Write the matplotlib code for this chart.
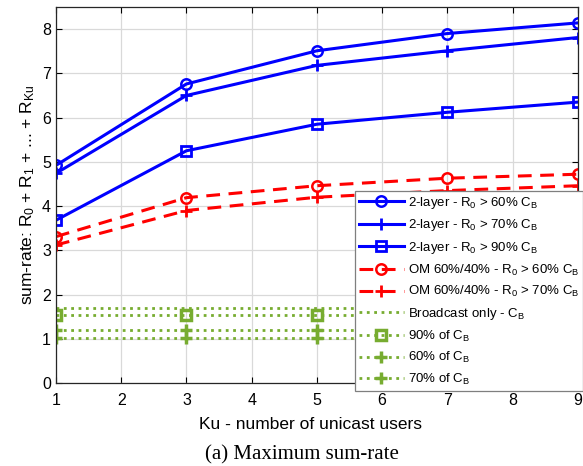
import matplotlib
matplotlib.use('Agg')
import matplotlib.pyplot as plt

plt.rcParams['font.family'] = ['Liberation Sans', 'DejaVu Sans']
plt.rcParams['mathtext.fontset'] = 'custom'
plt.rcParams['mathtext.rm'] = 'Liberation Sans'
plt.rcParams['mathtext.it'] = 'Liberation Sans:italic'

# number of unicast users
ku = [1, 3, 5, 7, 9]

# 2-layer scheme
two_layer_60 = [4.92, 6.76, 7.51, 7.90, 8.14]
two_layer_70 = [4.74, 6.50, 7.18, 7.51, 7.81]
two_layer_90 = [3.68, 5.25, 5.85, 6.12, 6.35]

# OM 60%/40%
om_60 = [3.31, 4.19, 4.46, 4.63, 4.72]
om_70 = [3.12, 3.90, 4.20, 4.35, 4.46]

# broadcast references
broadcast_only = [1.70, 1.70, 1.70, 1.70, 1.70]
cb_90 = [1.53, 1.53, 1.53, 1.53, 1.53]
cb_60 = [1.02, 1.02, 1.02, 1.02, 1.02]
cb_70 = [1.19, 1.19, 1.19, 1.19, 1.19]

BLUE = '#0000ff'
RED = '#ff0000'
GREEN = '#77ac30'


def main():
    fig = plt.figure(figsize=(5.83, 4.66), dpi=100)
    ax = fig.add_axes([0.096, 0.178, 0.895, 0.807])

    lw = 2.2
    ax.plot(ku, two_layer_60, '-o', c=BLUE, lw=lw, ms=7.5, mfc='none', mew=1.8,
            label=r'2-layer - R$_0$ > 60% C$_\mathrm{B}$')
    ax.plot(ku, two_layer_70, '-+', c=BLUE, lw=lw, ms=8, mew=2,
            label=r'2-layer - R$_0$ > 70% C$_\mathrm{B}$')
    ax.plot(ku, two_layer_90, '-s', c=BLUE, lw=lw, ms=6.5, mfc='none', mew=2,
            label=r'2-layer - R$_0$ > 90% C$_\mathrm{B}$')
    ax.plot(ku, om_60, '--o', c=RED, lw=lw, ms=7.5, mfc='none', mew=1.8, dashes=(4.5, 2.8),
            label=r'OM 60%/40% - R$_0$ > 60% C$_\mathrm{B}$')
    ax.plot(ku, om_70, '--+', c=RED, lw=lw, ms=8, mew=2, dashes=(4.5, 2.8),
            label=r'OM 60%/40% - R$_0$ > 70% C$_\mathrm{B}$')
    ax.plot(ku, broadcast_only, ':', c=GREEN, lw=2,
            label=r'Broadcast only - C$_\mathrm{B}$')
    ax.plot(ku, cb_90, ':s', c=GREEN, lw=2, ms=6.5, mfc='none', mew=2.5,
            label=r'90% of C$_\mathrm{B}$')
    ax.plot(ku, cb_60, ':+', c=GREEN, lw=2, ms=8, mew=2.5,
            label=r'60% of C$_\mathrm{B}$')
    ax.plot(ku, cb_70, ':+', c=GREEN, lw=2, ms=8, mew=2.5,
            label=r'70% of C$_\mathrm{B}$')

    ax.set_xlim(1, 9)
    ax.set_ylim(0, 8.5)
    ax.set_xticks(range(1, 10))
    ax.set_yticks(range(0, 9))
    ax.tick_params(direction='in', top=True, right=True, labelsize=11.5, length=4)
    ax.tick_params(axis='x', pad=7)
    ax.grid(True, color='#d9d9d9', lw=0.9)
    ax.set_axisbelow(True)
    for sp in ax.spines.values():
        sp.set_color('#262626')
        sp.set_linewidth(0.9)

    ax.set_xlabel('Ku - number of unicast users', fontsize=12.5)
    ax.xaxis.set_label_coords(0.487, -0.09)
    ax.set_ylabel(r'sum-rate: R$_0$ + R$_1$ + ... + R$_\mathrm{Ku}$', fontsize=12.5, labelpad=4)

    leg = ax.legend(loc='upper left', bbox_to_anchor=(0.573, -0.1, 0.437, 0.611),
                    mode='expand', fontsize=9.5, numpoints=1, handlelength=3.4,
                    handletextpad=0.3, labelspacing=0.5, borderpad=0.3,
                    borderaxespad=0, fancybox=False, framealpha=1, edgecolor='#7f7f7f')
    leg.get_frame().set_linewidth(0.9)

    fig.text(0.518, 0.024, '(a) Maximum sum-rate', ha='center', va='center',
             family=['Liberation Serif'], fontsize=15)

    fig.savefig('out.png', dpi=100)


if __name__ == '__main__':
    main()
